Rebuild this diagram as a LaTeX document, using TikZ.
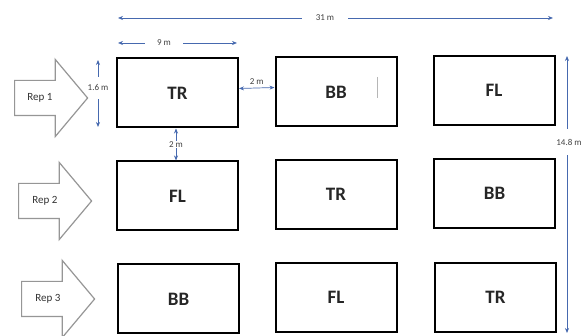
\documentclass[tikz,border=0pt]{standalone}
\usepackage{fontspec}
\setmainfont{Carlito}
\usetikzlibrary{positioning,calc}
\usetikzlibrary{arrows.meta,shapes.arrows}
\definecolor{DimBlue}{RGB}{70,105,175}
\definecolor{RepGray}{RGB}{150,150,150}
\tikzset{
  plot/.style={draw=black,line width=2pt,minimum width=121pt,minimum height=69pt,
    font=\fontsize{19}{22}\selectfont\bfseries,text=black!85},
  rep/.style={single arrow,draw=RepGray,fill=white,line width=1.2pt,
    inner xsep=0pt,inner ysep=17pt,anchor=tail,
    minimum height=73pt,single arrow head extend=21pt,
    single arrow tip angle=100},
  reptext/.style={font=\fontsize{11}{13}\selectfont,text=black!80},
  dim/.style={draw=DimBlue,line width=0.7pt},
  dimto/.style={dim,-{Stealth[length=5pt,width=4pt]}},
  dimboth/.style={dim,{Stealth[length=5pt,width=4pt]}-{Stealth[length=5pt,width=4pt]}},
  dimlbl/.style={font=\fontsize{9}{10}\selectfont,text=black!75,inner sep=1pt},
}

\begin{document}
\begin{tikzpicture}[x=1pt,y=-1pt]
\useasboundingbox (0,0) rectangle (584,336);
% plots
\node[plot] (p11) at (177.5,93) {TR};
\node[plot] (p12) at (336,92) {BB};
\node[plot] (p13) at (494,90.5) {FL};
\node[plot] (p21) at (177.5,196) {FL};
\node[plot] (p22) at (336,194.5) {TR};
\node[plot] (p23) at (494.5,193.5) {BB};
\node[plot] (p31) at (178.5,299) {BB};
\node[plot] (p32) at (336,297.5) {FL};
\node[plot] (p33) at (495.5,297.5) {TR};
\draw[RepGray!70,line width=0.8pt] ([xshift=41pt,yshift=15pt]p12.center) -- ([xshift=41pt,yshift=-6pt]p12.center);
% replicates
\node[rep] (rep1) at (14,98) {};
\node[rep] (rep2) at (18,201) {};
\node[rep] (rep3) at (21,299) {};
\node[reptext] (rt1) at ([xshift=26pt]rep1.tail) {Rep 1};
\node[reptext] (rt2) at ([xshift=27pt]rep2.tail) {Rep 2};
\node[reptext] (rt3) at ([xshift=27pt]rep3.tail) {Rep 3};
% total width
\coordinate (w0) at (118,18);
\coordinate (w1) at (553,18);
\node[dimlbl,inner xsep=14pt] (d31) at (325,18) {31 m};
\draw[dimto] (d31) -- (w0);
\draw[dimto] (d31) -- (w1);
% plot width
\coordinate (n0) at (118,43);
\coordinate (n1) at (237,43);
\node[dimlbl,inner xsep=12pt] (d9) at (164,43) {9 m};
\draw[dimto] (d9) -- (n0);
\draw[dimto] (d9) -- (n1);
% plot height
\coordinate (h0) at (98,60);
\coordinate (h1) at (98,127);
\node[dimlbl,inner ysep=8pt] (d16) at (98,88) {1.6 m};
\draw[dimto] (d16) -- (h0);
\draw[dimto] (d16) -- (h1);
% gaps
\draw[dimboth] ([yshift=4.5pt]p11.east) -- ([yshift=4.5pt]p12.west)
  node[midway,above=2pt,dimlbl] (dgx) {2 m};
\draw[dimboth] ([xshift=-1.5pt]p11.south) -- ([xshift=-1.5pt]p21.north)
  node[midway,dimlbl,fill=white] (dgy) {2 m};
% total length
\coordinate (v0) at (567,56);
\coordinate (v1) at (567,333);
\node[dimlbl,inner ysep=10pt] (d148) at (569,142) {14.8 m};
\draw[dimto] (d148.north -| v0) -- (v0);
\draw[dimto] (d148.south -| v1) -- (v1);
\end{tikzpicture}
\end{document}
